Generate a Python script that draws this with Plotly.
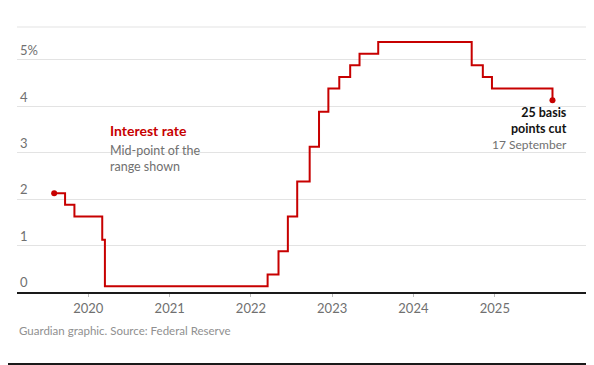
import plotly.graph_objects as go

# Fed funds target range mid-point (%), by decision date
dates = ["2019-08-01", "2019-09-19", "2019-10-31", "2020-03-04", "2020-03-16",
         "2022-03-17", "2022-05-05", "2022-06-16", "2022-07-28", "2022-09-22",
         "2022-11-03", "2022-12-15", "2023-02-02", "2023-03-23", "2023-05-04",
         "2023-07-27", "2024-09-19", "2024-11-08", "2024-12-19", "2025-09-17"]
rates = [2.125, 1.875, 1.625, 1.125, 0.125,
         0.375, 0.875, 1.625, 2.375, 3.125,
         3.875, 4.375, 4.625, 4.875, 5.125,
         5.375, 4.875, 4.625, 4.375, 4.125]

year_ticks = ["2020-01-01", "2021-01-01", "2022-01-01", "2023-01-01", "2024-01-01", "2025-01-01"]
year_labels = ["2020", "2021", "2022", "2023", "2024", "2025"]
y_ticks = [0, 1, 2, 3, 4, 5]
y_labels = ["0", "1", "2", "3", "4", "5%"]

RED = "#c70000"
GREY = "#707070"
FONT = "Lato"

fig = go.Figure()
fig.add_trace(go.Scatter(x=dates, y=rates, mode="lines", line_shape="hv",
                         line=dict(color=RED, width=2), hoverinfo="skip"))
fig.add_trace(go.Scatter(x=[dates[0], dates[-1]], y=[rates[0], rates[-1]], mode="markers",
                         marker=dict(color=RED, size=6), hoverinfo="skip"))

fig.update_layout(
    width=586, height=357,
    margin=dict(l=9, r=1, t=19, b=73),
    paper_bgcolor="white", plot_bgcolor="white",
    showlegend=False,
    font=dict(family=FONT, color=GREY, size=13),
    xaxis=dict(type="date", range=["2019-02-15", "2026-03-18"],
               tickvals=year_ticks, ticktext=year_labels,
               showgrid=False, zeroline=False,
               showline=True, linecolor="#1a1a1a", linewidth=2,
               ticks="outside", ticklen=3, tickcolor="#bbbbbb", tickwidth=1,
               tickfont=dict(size=13, color=GREY, family=FONT)),
    yaxis=dict(range=[0, 5.7], tickvals=y_ticks, ticktext=y_labels,
               showgrid=True, gridcolor="#e3e3e3", gridwidth=1,
               zeroline=False, showline=False,
               ticklabelposition="inside top",
               tickfont=dict(size=13, color=GREY, family=FONT)),
)

# top gridline and picture bottom border line
fig.add_shape(type="line", xref="paper", yref="paper", x0=0, x1=1.01, y0=1, y1=1,
              line=dict(color="#e3e3e3", width=1))
fig.add_shape(type="line", xref="paper", yref="paper", x0=-0.05, x1=1.05, y0=-0.272, y1=-0.272,
              line=dict(color="#1a1a1a", width=2))

fig.add_annotation(x=0.158, y=0.611, xref="paper", yref="paper", xanchor="left", yanchor="middle",
                   text="<b>Interest rate</b>", showarrow=False,
                   font=dict(size=14, color=RED, family=FONT))
fig.add_annotation(x=0.158, y=0.502, xref="paper", yref="paper", xanchor="left", yanchor="middle",
                   text="Mid-point of the<br>range shown", showarrow=False, align="left",
                   font=dict(size=12.5, color=GREY, family=FONT))
fig.add_annotation(x=0.958, y=0.649, xref="paper", yref="paper", xanchor="right", yanchor="middle",
                   text="<b>25 basis<br>points cut</b>", showarrow=False, align="right",
                   font=dict(size=12.5, color="#121212", family=FONT))
fig.add_annotation(x=0.958, y=0.558, xref="paper", yref="paper", xanchor="right", yanchor="middle",
                   text="17 September", showarrow=False, align="right",
                   font=dict(size=12, color=GREY, family=FONT))
fig.add_annotation(x=0, y=-0.147, xref="paper", yref="paper", xanchor="left", yanchor="middle",
                   text="Guardian graphic. Source: Federal Reserve", showarrow=False,
                   font=dict(size=11.5, color="#909090", family=FONT))

fig.write_html("out.html")
